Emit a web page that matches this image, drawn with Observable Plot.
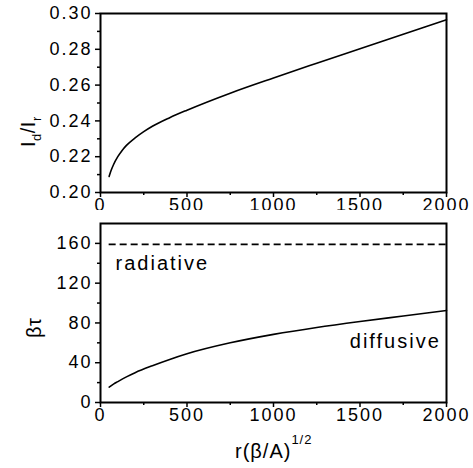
<!DOCTYPE html>
<html>
<head>
<meta charset="utf-8">
<script src="https://cdn.jsdelivr.net/npm/d3@7"></script>
<script src="https://cdn.jsdelivr.net/npm/@observablehq/plot@0.6"></script>
<style>
  html, body { margin: 0; padding: 0; background: #fff; }
  #chart { position: relative; width: 473px; height: 468px; }
  #chart svg { position: absolute; left: 0; }
</style>
</head>
<body>
<div id="chart"></div>
<script>
// x values r(β/A)^1/2
const rTop = [50, 60, 75, 100, 125, 150, 200, 250, 300, 400, 500, 750, 1000, 1250, 1500, 1750, 2000];
const ratio = [0.2090, 0.2120, 0.2155, 0.2200, 0.2235, 0.2263, 0.2305, 0.2340, 0.2370, 0.2418, 0.2460, 0.2555, 0.2640, 0.2722, 0.2803, 0.2884, 0.2965];

const rBot = [50, 75, 100, 150, 200, 300, 400, 500, 750, 1000, 1250, 1500, 1750, 2000];
const betaTau = [15.5, 18.5, 21, 25.8, 30, 37, 43.3, 49, 60, 68.5, 75.5, 81.5, 87, 92.5];

const radiativeLevel = 159;
const radiativeRange = [50, 2000];

const xTicks = [0, 500, 1000, 1500, 2000];
const xMinor = [250, 750, 1250, 1750];
const yTopTicks = [0.20, 0.22, 0.24, 0.26, 0.28, 0.30];
const yTopMinor = [0.21, 0.23, 0.25, 0.27, 0.29];
const yBotTicks = [0, 40, 80, 120, 160];
const yBotMinor = [20, 60, 100, 140];

const labelRadiative = [{text: "radiative", x: 87, y: 133}];
const labelDiffusive = [{text: "diffusive", x: 1967, y: 54.5}];

const style = {fontFamily: "'Liberation Sans', Arial, sans-serif", fontSize: "18px", letterSpacing: "2px", color: "#000", background: "#fff", overflow: "visible"};
const W = 473;

const topData = rTop.map((r, i) => ({r, v: ratio[i]}));
const botData = rBot.map((r, i) => ({r, v: betaTau[i]}));

const topPlot = Plot.plot({
  width: W, height: 215,
  marginTop: 13, marginBottom: 23, marginLeft: 100, marginRight: 27,
  style,
  x: {domain: [0, 2000]},
  y: {domain: [0.2, 0.3]},
  marks: [
    Plot.axisX({ticks: xTicks, tickSize: 5, tickPadding: 1, tickFormat: d3.format("d"), label: null, strokeWidth: 1.5}),
    Plot.axisX({ticks: xMinor, tickSize: 3, text: null, label: null, strokeWidth: 1.5}),
    Plot.axisY({ticks: yTopTicks, tickSize: 5, tickPadding: 3, tickFormat: d3.format(".2f"), label: null, strokeWidth: 1.5}),
    Plot.axisY({ticks: yTopMinor, tickSize: 3, text: null, label: null, strokeWidth: 1.5}),
    Plot.frame({strokeWidth: 2}),
    Plot.line(topData, {x: "r", y: "v", stroke: "#000", strokeWidth: 1.6, curve: "monotone-x"})
  ]
});
topPlot.style.top = "0px";

const botPlot = Plot.plot({
  width: W, height: 258,
  marginTop: 13, marginBottom: 66, marginLeft: 100, marginRight: 27,
  style,
  x: {domain: [0, 2000]},
  y: {domain: [0, 180]},
  marks: [
    Plot.axisX({ticks: xTicks, tickSize: 5, tickPadding: 1, tickFormat: d3.format("d"), label: null, strokeWidth: 1.5}),
    Plot.axisX({ticks: xMinor, tickSize: 3, text: null, label: null, strokeWidth: 1.5}),
    Plot.axisY({ticks: yBotTicks, tickSize: 5, tickPadding: 3, label: null, strokeWidth: 1.5}),
    Plot.axisY({ticks: yBotMinor, tickSize: 3, text: null, label: null, strokeWidth: 1.5}),
    Plot.frame({strokeWidth: 2}),
    Plot.ruleY([radiativeLevel], {x1: radiativeRange[0], x2: radiativeRange[1], stroke: "#000", strokeWidth: 1.6, strokeDasharray: "7,4"}),
    Plot.line(botData, {x: "r", y: "v", stroke: "#000", strokeWidth: 1.6, curve: "monotone-x"}),
    Plot.text(labelRadiative, {x: "x", y: "y", text: "text", textAnchor: "start", lineAnchor: "bottom", fontSize: 20, fill: "#000", letterSpacing: "1.5px"}),
    Plot.text(labelDiffusive, {x: "x", y: "y", text: "text", textAnchor: "end", lineAnchor: "bottom", fontSize: 20, fill: "#000", letterSpacing: "1.5px"})
  ]
});
botPlot.style.top = "210px";

const chart = document.getElementById("chart");
chart.appendChild(topPlot);
chart.appendChild(botPlot);

// Y label for top: I_d / I_r  (reads bottom-to-top, starts at y=147)
{
  const t = d3.select(topPlot).append("text")
    .attr("transform", "translate(35,147) rotate(-90)")
    .attr("text-anchor", "start")
    .attr("font-size", 20)
    .attr("letter-spacing", "0.5px")
    .attr("fill", "#000");
  t.append("tspan").text("I");
  t.append("tspan").attr("font-size", 13).attr("dy", 6).text("d");
  t.append("tspan").attr("dy", -6).text("/I");
  t.append("tspan").attr("font-size", 13).attr("dy", 6).text("r");
}
// Y label for bottom: βτ
{
  d3.select(botPlot).append("text")
    .attr("transform", "translate(41,128) rotate(-90)")
    .attr("text-anchor", "start")
    .attr("font-size", 20)
    .attr("letter-spacing", "0.5px")
    .attr("fill", "#000")
    .text("βτ");
}
// X label: r(β/A)^1/2
{
  const t = d3.select(botPlot).append("text")
    .attr("x", 235).attr("y", 248)
    .attr("text-anchor", "start")
    .attr("font-size", 20)
    .attr("letter-spacing", "1px")
    .attr("fill", "#000");
  t.append("tspan").text("r(β/A)");
  t.append("tspan").attr("font-size", 13).attr("dy", -14).text("1/2");
}
</script>
</body>
</html>
